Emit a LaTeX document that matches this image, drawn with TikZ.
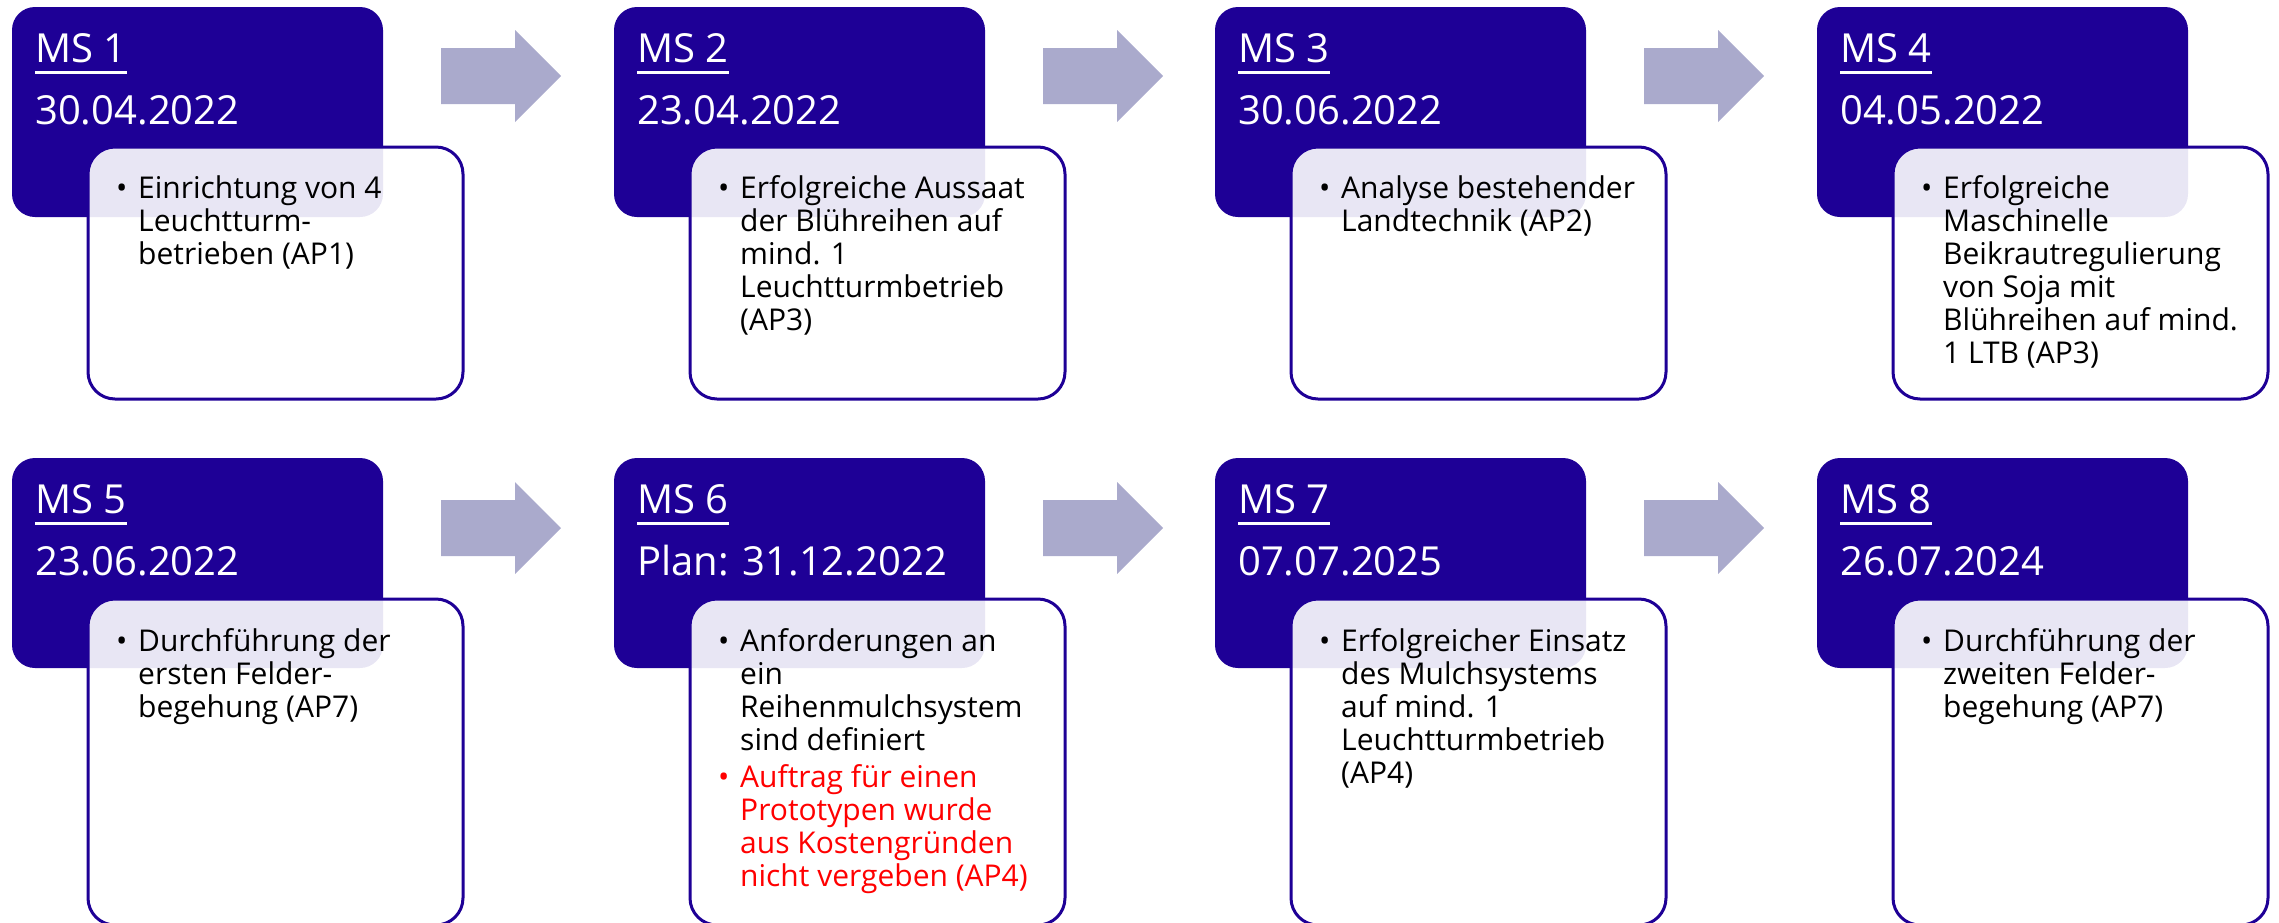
\documentclass[tikz,border=0pt]{standalone}
\usepackage{fontspec}
\setmainfont{Open Sans}
\usepackage{tikz}
\pgfdeclarelayer{darklayer}
\pgfdeclarelayer{whitelayer}
\pgfsetlayers{darklayer,whitelayer,main}
\definecolor{msblue}{RGB}{30,0,150}
\definecolor{arrowgrey}{RGB}{170,170,204}
\definecolor{msred}{RGB}{255,0,0}
\tikzstyle{msbox}=[anchor=north west, fill=msblue, rounded corners=23pt, minimum width=371pt, minimum height=210pt, inner sep=0pt, outer sep=0pt]
\tikzstyle{infobox}=[anchor=north west, draw=msblue, line width=3pt, fill=white, fill opacity=0.9, rounded corners=27pt, minimum width=375pt, minimum height=252pt, inner sep=0pt, outer sep=0pt]
\tikzstyle{infolong}=[infobox, minimum height=326pt]
\tikzstyle{mstitle}=[anchor=base west, inner sep=0pt, text=white, font=\fontsize{40pt}{48pt}\selectfont]
\tikzstyle{msline}=[draw=white, line width=3pt]
\tikzstyle{infotext}=[anchor=base west, inner sep=0pt, font=\fontsize{30pt}{33pt}\selectfont]
\tikzstyle{steparrow}=[fill=arrowgrey]
\newcommand{\msitem}[1]{\hangindent=22pt\hangafter=1\noindent\makebox[22pt][l]{\textbullet}#1\par}
\newcommand{\infolist}[1]{\parbox[t]{345pt}{\setlength{\parskip}{4pt}#1}}

\begin{document}
\begin{tikzpicture}[x=1pt, y=-1pt]
	\useasboundingbox (0,0) rectangle (2279,922);
	\begin{pgfonlayer}{darklayer}
		\node [style=msbox] (d1) at (12,7) {};
		\node [style=msbox] (d2) at (614,7) {};
		\node [style=msbox] (d3) at (1215,7) {};
		\node [style=msbox] (d4) at (1817,7) {};
		\node [style=msbox] (d5) at (12,458) {};
		\node [style=msbox] (d6) at (614,458) {};
		\node [style=msbox] (d7) at (1215,458) {};
		\node [style=msbox] (d8) at (1817,458) {};
	\end{pgfonlayer}
	\begin{pgfonlayer}{whitelayer}
		\node [style=infobox] (w1) at (88,147) {};
		\node [style=infobox] (w2) at (690,147) {};
		\node [style=infobox] (w3) at (1291,147) {};
		\node [style=infobox] (w4) at (1893,147) {};
		\node [style=infolong] (w5) at (88,599) {};
		\node [style=infolong] (w6) at (690,599) {};
		\node [style=infolong] (w7) at (1291,599) {};
		\node [style=infolong] (w8) at (1893,599) {};
	\end{pgfonlayer}
	% step arrows
	\fill [style=steparrow] (441,48) -- (515,48) -- (515,30) -- (561,76) -- (515,122) -- (515,104) -- (441,104) -- cycle;
	\fill [style=steparrow] (1043,48) -- (1117,48) -- (1117,30) -- (1163,76) -- (1117,122) -- (1117,104) -- (1043,104) -- cycle;
	\fill [style=steparrow] (1644,48) -- (1718,48) -- (1718,30) -- (1764,76) -- (1718,122) -- (1718,104) -- (1644,104) -- cycle;
	\fill [style=steparrow] (441,500) -- (515,500) -- (515,482) -- (561,528) -- (515,574) -- (515,556) -- (441,556) -- cycle;
	\fill [style=steparrow] (1043,500) -- (1117,500) -- (1117,482) -- (1163,528) -- (1117,574) -- (1117,556) -- (1043,556) -- cycle;
	\fill [style=steparrow] (1644,500) -- (1718,500) -- (1718,482) -- (1764,528) -- (1718,574) -- (1718,556) -- (1644,556) -- cycle;
	% milestones
	\node [style=mstitle] (t1) at (35,62) {MS 1};
	\node [style=mstitle] (dt1) at (35,124) {30.04.2022};
	\node [style=mstitle] (t2) at (637,62) {MS 2};
	\node [style=mstitle] (dt2) at (637,124) {23.04.2022};
	\node [style=mstitle] (t3) at (1238,62) {MS 3};
	\node [style=mstitle] (dt3) at (1238,124) {30.06.2022};
	\node [style=mstitle] (t4) at (1840,62) {MS 4};
	\node [style=mstitle] (dt4) at (1840,124) {04.05.2022};
	\node [style=mstitle] (t5) at (35,513) {MS 5};
	\node [style=mstitle] (dt5) at (35,575) {23.06.2022};
	\node [style=mstitle] (t6) at (637,513) {MS 6};
	\node [style=mstitle] (dt6) at (637,575) {Plan: 31.12.2022};
	\node [style=mstitle] (t7) at (1238,513) {MS 7};
	\node [style=mstitle] (dt7) at (1238,575) {07.07.2025};
	\node [style=mstitle] (t8) at (1840,513) {MS 8};
	\node [style=mstitle] (dt8) at (1840,575) {26.07.2024};
	\draw [style=msline] ([yshift=-10pt]t1.base west) -- ([yshift=-10pt]t1.base east);
	\draw [style=msline] ([yshift=-10pt]t2.base west) -- ([yshift=-10pt]t2.base east);
	\draw [style=msline] ([yshift=-10pt]t3.base west) -- ([yshift=-10pt]t3.base east);
	\draw [style=msline] ([yshift=-10pt]t4.base west) -- ([yshift=-10pt]t4.base east);
	\draw [style=msline] ([yshift=-10pt]t5.base west) -- ([yshift=-10pt]t5.base east);
	\draw [style=msline] ([yshift=-10pt]t6.base west) -- ([yshift=-10pt]t6.base east);
	\draw [style=msline] ([yshift=-10pt]t7.base west) -- ([yshift=-10pt]t7.base east);
	\draw [style=msline] ([yshift=-10pt]t8.base west) -- ([yshift=-10pt]t8.base east);
	% goals
	\node [style=infotext] (g1) at (116,198) {\infolist{\msitem{Einrichtung von 4\\ Leuchtturm-\\ betrieben (AP1)}}};
	\node [style=infotext] (g2) at (718,198) {\infolist{\msitem{Erfolgreiche Aussaat\\ der Blühreihen auf\\ mind. 1\\ Leuchtturmbetrieb\\ (AP3)}}};
	\node [style=infotext] (g3) at (1319,198) {\infolist{\msitem{Analyse bestehender\\ Landtechnik (AP2)}}};
	\node [style=infotext] (g4) at (1921,198) {\infolist{\msitem{Erfolgreiche\\ Maschinelle\\ Beikrautregulierung\\ von Soja mit\\ Blühreihen auf mind.\\ 1 LTB (AP3)}}};
	\node [style=infotext] (g5) at (116,651) {\infolist{\msitem{Durchführung der\\ ersten Felder-\\ begehung (AP7)}}};
	\node [style=infotext] (g6) at (718,651) {\infolist{\msitem{Anforderungen an\\ ein\\ Reihenmulchsystem\\ sind definiert}{\color{msred}\msitem{Auftrag für einen\\ Prototypen wurde\\ aus Kostengründen\\ nicht vergeben (AP4)}}}};
	\node [style=infotext] (g7) at (1319,651) {\infolist{\msitem{Erfolgreicher Einsatz\\ des Mulchsystems\\ auf mind. 1\\ Leuchtturmbetrieb\\ (AP4)}}};
	\node [style=infotext] (g8) at (1921,651) {\infolist{\msitem{Durchführung der\\ zweiten Felder-\\ begehung (AP7)}}};
\end{tikzpicture}
\end{document}
